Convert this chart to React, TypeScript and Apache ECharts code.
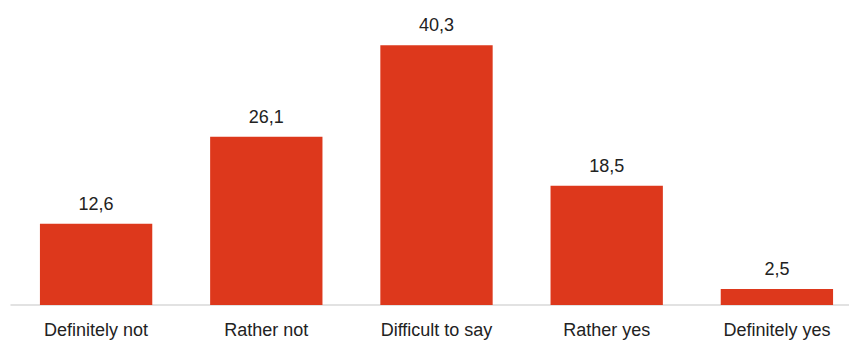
import React, { useEffect, useRef } from "react";
import * as echarts from "echarts";

const categories = ["Definitely not", "Rather not", "Difficult to say", "Rather yes", "Definitely yes"];
const values = [12.6, 26.1, 40.3, 18.5, 2.5];

export default function App() {
  const ref = useRef<HTMLDivElement>(null);
  useEffect(() => {
    const chart = echarts.init(ref.current!, null, { renderer: "svg" });
    chart.setOption({
      animation: false,
      grid: { left: 11, width: 851, top: 15, bottom: 39, containLabel: false, outerBoundsMode: "none" },
      xAxis: {
        type: "category",
        data: categories,
        axisLine: { show: true, lineStyle: { color: "#d9d9d9", width: 1.5 } },
        axisTick: { show: false },
        axisLabel: {
          color: "#222",
          fontSize: 18,
          fontFamily: "Liberation Sans, Arial, sans-serif",
          margin: 16,
          interval: 0,
        },
      },
      yAxis: {
        type: "value",
        min: 0,
        max: 45,
        show: false,
        splitLine: { show: false },
      },
      series: [
        {
          type: "bar",
          data: values,
          barWidth: "66%",
          itemStyle: { color: "#DD381C" },
          label: {
            show: true,
            position: "top",
            distance: 11,
            color: "#222",
            fontSize: 18,
            fontFamily: "Liberation Sans, Arial, sans-serif",
            formatter: (p: any) => String(p.value).replace(".", ","),
          },
        },
      ],
    });
    return () => chart.dispose();
  }, []);
  return <div ref={ref} style={{ width: 849, height: 344, position: "absolute", left: 0, top: 0 }} />;
}
